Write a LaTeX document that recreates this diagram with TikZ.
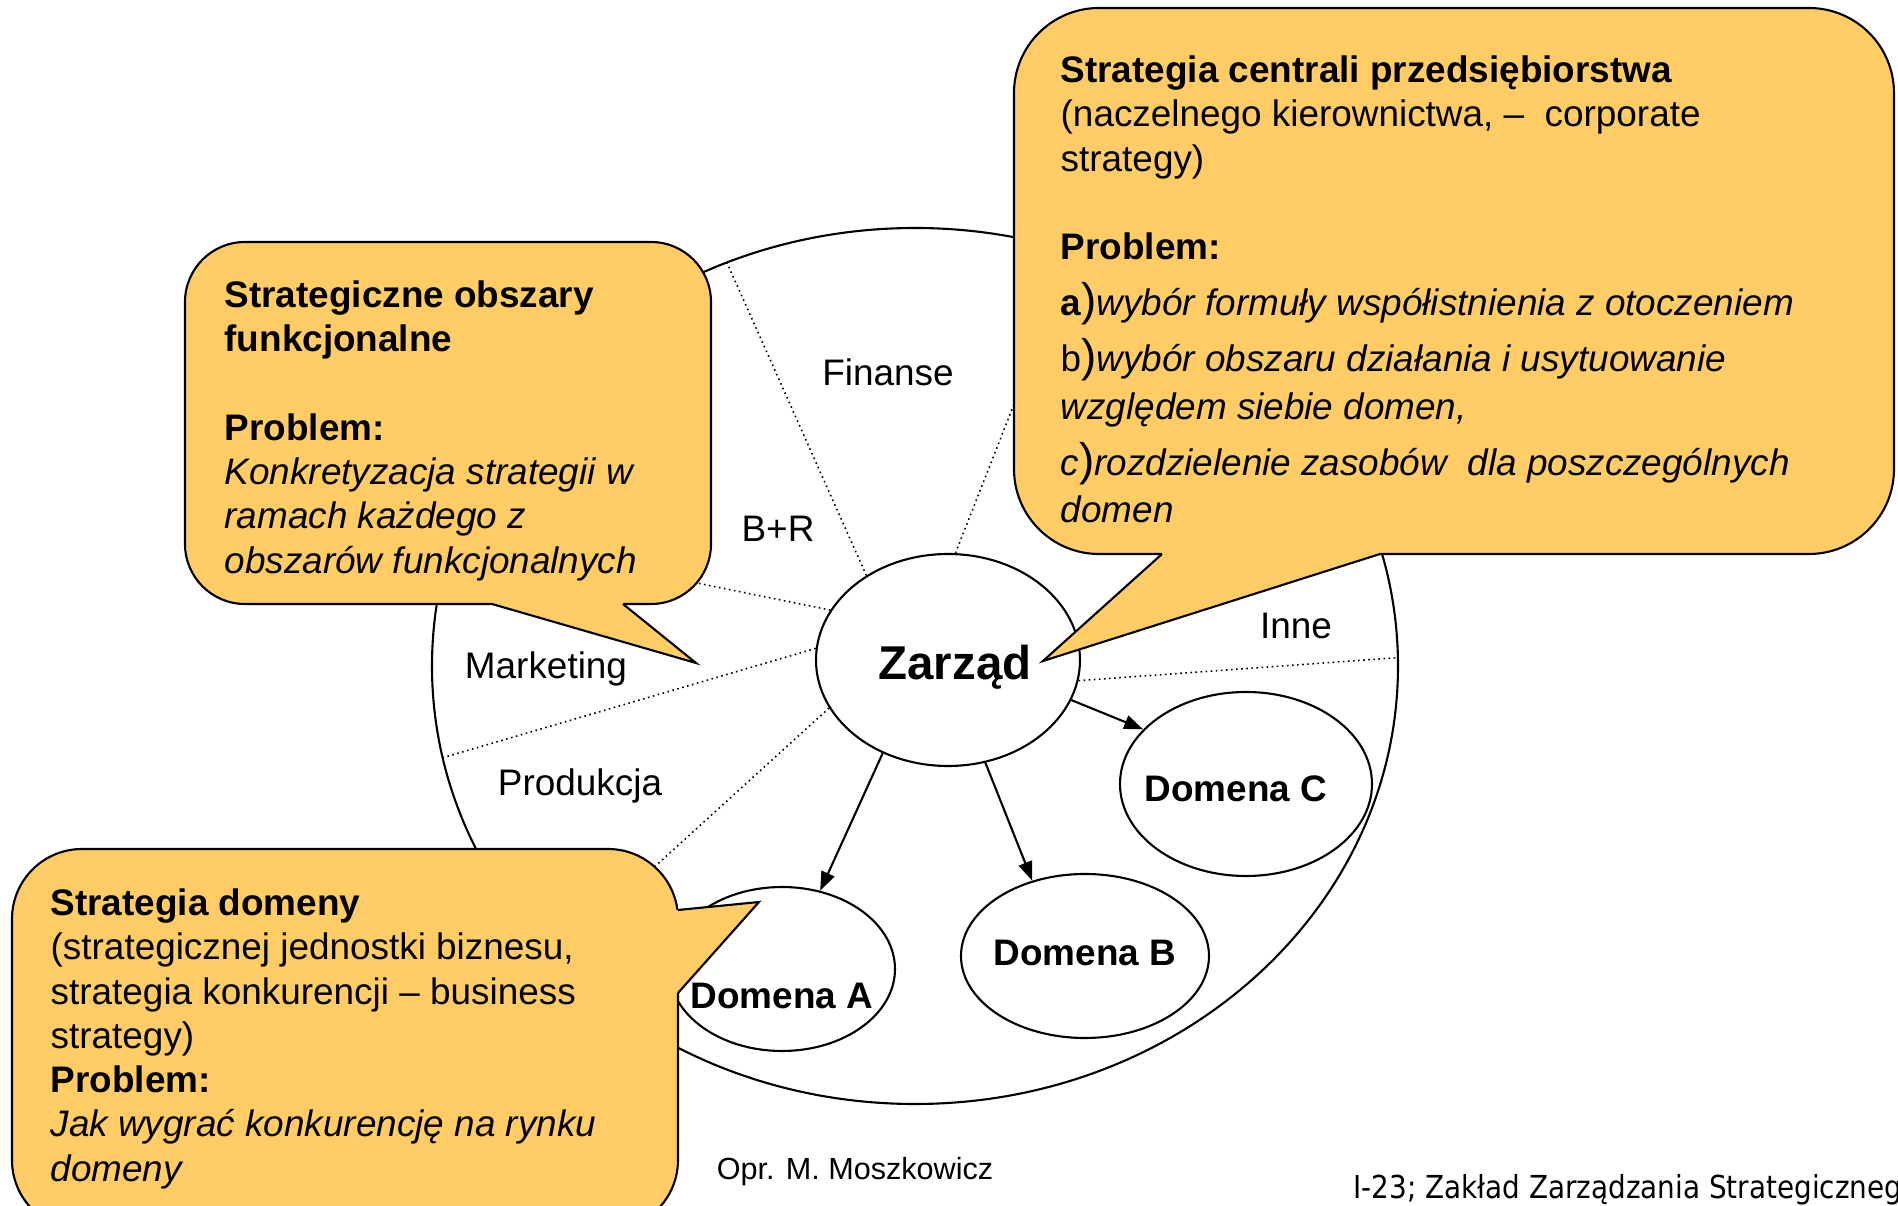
\documentclass[tikz,border=0pt]{standalone}
\usepackage{fontspec}
\setmainfont{Liberation Sans}
\newfontfamily\footfont[FakeStretch=0.88]{DejaVu Sans}
\usetikzlibrary{arrows.meta,shapes.geometric}
\definecolor{bubblefill}{RGB}{255,204,102}
\newcommand{\itemmark}[1]{#1{\fontsize{13}{12.6}\selectfont)}}
\tikzset{
  rim/.style     ={draw, ellipse, line width=0.6pt, inner sep=0},
  unit/.style    ={draw, ellipse, fill=white, line width=0.6pt, inner sep=0},
  unittext/.style={font=\bfseries\fontsize{10.5}{12.6}\selectfont},
  area/.style    ={font=\fontsize{10.5}{12.6}\selectfont},
  divider/.style ={densely dotted, line width=0.45pt},
  arr/.style     ={-{Triangle[length=1.9mm,width=1.4mm]}, line width=0.6pt},
  bubble/.style  ={draw, fill=bubblefill, line width=0.6pt, inner sep=0},
  note/.style    ={anchor=north west, align=left, inner sep=0, font=\fontsize{10.5}{12.6}\selectfont},
}

\begin{document}
\begin{tikzpicture}
  \useasboundingbox (0,0) rectangle (18.98,12.06);

  % company wheel
  \node[rim, minimum width=9.66cm, minimum height=8.76cm] (rim) at (9.15,5.40) {};
  \node[unit, minimum width=2.64cm, minimum height=2.12cm,
        label={[font=\bfseries\fontsize{13.5}{16}\selectfont, xshift=0.07cm, yshift=-0.07cm]center:Zarząd}] (zarzad) at (9.48,5.46) {};
  \draw[divider] (zarzad.134) -- (rim.115);
  \draw[divider] (zarzad.86)  -- (rim.69);
  \draw[divider] (zarzad.157) -- (rim.164);
  \draw[divider] (zarzad.175) -- (rim.191);
  \draw[divider] (zarzad.202) -- (rim.219);
  \draw[divider] (zarzad.351) -- (rim.1);

  \node[area] (fin)  at (8.88,8.34) {Finanse};
  \node[area] (bir)  at (7.78,6.77) {B+R};
  \node[area] (mkt)  at (5.46,5.37) {Marketing};
  \node[area] (prod) at (5.80,4.20) {Produkcja};
  \node[area] (inne) at (12.96,5.80) {Inne};

  \node[unit, minimum width=2.52cm, minimum height=1.84cm, label={[unittext, xshift=-0.1cm, yshift=-0.05cm]center:Domena C}] (domC) at (12.46,4.22) {};
  \node[unit, minimum width=2.48cm, minimum height=1.64cm, label={[unittext, yshift=0.03cm]center:Domena B}] (domB) at (10.85,2.50) {};
  \node[unit, minimum width=2.26cm, minimum height=1.64cm, label={[unittext, yshift=-0.27cm]center:Domena A}] (domA) at (7.82,2.37) {};

  \draw[arr] (zarzad.235) -- (domA.64);
  \draw[arr] (zarzad.290) -- (domB.125);
  \draw[arr] (zarzad.342) -- (domC.152);

  % corporate strategy
  \node[bubble, rounded corners=0.85cm, minimum width=8.80cm, minimum height=5.46cm] (corp) at (14.54,9.25) {};
  \coordinate (corpA) at (11.62,6.52);
  \coordinate (corpB) at (13.80,6.52);
  \coordinate (corpTip) at (10.43,5.45);
  \fill[bubblefill] ([yshift=1pt]corpA) -- (corpA) -- (corpTip) -- (corpB) -- ([yshift=1pt]corpB) -- cycle;
  \draw[line width=0.6pt] (corpA) -- (corpTip) -- (corpB);
  \node[note] (corptext) at (10.60,11.51) {\textbf{Strategia centrali przedsiębiorstwa}\\
    (naczelnego kierownictwa, –~ corporate\\
    strategy)\\[12.6pt]
    \textbf{Problem:}\\[3.3pt]
    \itemmark{\textbf{a}}\textit{wybór formuły współistnienia z otoczeniem}\\[3.3pt]
    \itemmark{b}\textit{wybór obszaru działania i usytuowanie}\\[1pt]
    \textit{względem siebie domen,}\\[3.3pt]
    \itemmark{\textit{c}}\textit{rozdzielenie zasobów~ dla poszczególnych}\\[1pt]
    \textit{domen}};

  % functional areas
  \node[bubble, rounded corners=0.6cm, minimum width=5.26cm, minimum height=3.62cm] (func) at (4.48,7.83) {};
  \coordinate (funcA) at (4.92,6.02);
  \coordinate (funcB) at (6.23,6.02);
  \coordinate (funcTip) at (6.96,5.43);
  \fill[bubblefill] ([yshift=1pt]funcA) -- (funcA) -- (funcTip) -- (funcB) -- ([yshift=1pt]funcB) -- cycle;
  \draw[line width=0.6pt] (funcA) -- (funcTip) -- (funcB);
  \node[note] (functext) at (2.24,9.26) {\textbf{Strategiczne obszary}\\
    \textbf{funkcjonalne}\\[12.6pt]
    \textbf{Problem:}\\
    \textit{Konkretyzacja strategii w}\\
    \textit{ramach każdego z}\\
    \textit{obszarów funkcjonalnych}};

  % business strategy
  \node[bubble, rounded corners=0.7cm, minimum width=6.66cm, minimum height=3.81cm] (biz) at (3.45,1.665) {};
  \coordinate (bizA) at (6.78,2.96);
  \coordinate (bizB) at (6.78,2.13);
  \coordinate (bizTip) at (7.59,3.04);
  \fill[bubblefill] ([xshift=-1pt]bizA) -- (bizA) -- (bizTip) -- (bizB) -- ([xshift=-1pt]bizB) -- cycle;
  \draw[line width=0.6pt] (bizA) -- (bizTip) -- (bizB);
  \node[note] (biztext) at (0.50,3.18) {\textbf{Strategia domeny}\\
    (strategicznej jednostki biznesu,\\
    strategia konkurencji – business\\
    strategy)\\
    \textbf{Problem:}\\
    \textit{Jak wygrać konkurencję na rynku}\\
    \textit{domeny}};

  \node[font=\fontsize{8.7}{10}\selectfont] (author) at (8.55,0.34) {Opr. M. Moszkowicz};
  \node[anchor=west, inner sep=0, font=\footfont\fontsize{9}{10}\selectfont] (footer) at (13.53,0.16) {I-23; Zakład Zarządzania Strategicznego};
\end{tikzpicture}
\end{document}
